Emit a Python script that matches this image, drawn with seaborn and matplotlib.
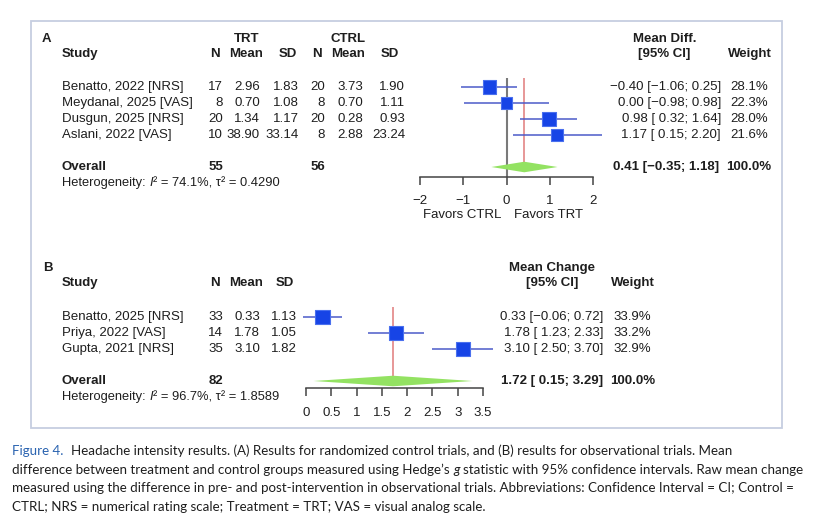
import matplotlib
matplotlib.use("Agg")
import matplotlib.pyplot as plt
from matplotlib.patches import Polygon, Rectangle
import seaborn as sns
import pandas as pd
import numpy as np

W, H = 818, 520

# panel A: randomized control trials
studies_a = ["Benatto, 2022 [NRS]", "Meydanal, 2025 [VAS]", "Dusgun, 2025 [NRS]", "Aslani, 2022 [VAS]"]
n_trt_a = [17, 8, 20, 10]
mean_trt_a = [2.96, 0.70, 1.34, 38.90]
sd_trt_a = [1.83, 1.08, 1.17, 33.14]
n_ctrl_a = [20, 8, 20, 8]
mean_ctrl_a = [3.73, 0.70, 0.28, 2.88]
sd_ctrl_a = [1.90, 1.11, 0.93, 23.24]
est_a = [-0.40, 0.00, 0.98, 1.17]
lo_a = [-1.06, -0.98, 0.32, 0.15]
hi_a = [0.25, 0.98, 1.64, 2.20]
weight_a = [28.1, 22.3, 28.0, 21.6]
overall_a = [0.41, -0.35, 1.18]
het_a = ["74.1%", "0.4290"]
ticks_a = [-2, -1, 0, 1, 2]

# panel B: observational trials
studies_b = ["Benatto, 2025 [NRS]", "Priya, 2022 [VAS]", "Gupta, 2021 [NRS]"]
n_b = [33, 14, 35]
mean_b = [0.33, 1.78, 3.10]
sd_b = [1.13, 1.05, 1.82]
est_b = [0.33, 1.78, 3.10]
lo_b = [-0.06, 1.23, 2.50]
hi_b = [0.72, 2.33, 3.70]
weight_b = [33.9, 33.2, 32.9]
overall_b = [1.72, 0.15, 3.29]
het_b = ["96.7%", "1.8589"]
ticks_b = [0, 0.5, 1, 1.5, 2, 2.5, 3, 3.5]

caption = [
    [("Figure 4.", "blue", 2.2),
     ("Headache intensity results. (A) Results for randomized control trials, and (B) results for observational trials. Mean", "", 1)],
    [("difference between treatment and control groups measured using Hedge\u2019s", "", 1), ("g", "italic", 1),
     ("statistic with 95% confidence intervals. Raw mean change", "", 1)],
    [("measured using the difference in pre- and post-intervention in observational trials. Abbreviations: Confidence Interval = CI; Control =", "", 1)],
    [("CTRL; NRS = numerical rating scale; Treatment = TRT; VAS = visual analog scale.", "", 1)],
]

INK = "#1e1e1e"
SQ = "#1744e6"
SQ_EDGE = "#4a70ee"
CI_COL = "#4b5bc9"
DIAMOND = "#93e262"
RED = "#e07a7a"
GREY = "#7a7a7a"
FS = 9.5
MAIN_FONT = ["Liberation Sans", "DejaVu Sans"]
CAP_FONT = ["Lato", "Liberation Sans", "DejaVu Sans"]

sns.set_theme(style="white")
plt.rcParams["font.family"] = MAIN_FONT

fig = plt.figure(figsize=(W / 100, H / 100), dpi=100)
fig.patch.set_facecolor("white")
renderer = fig.canvas.get_renderer()


def fx(px):
    return px / W


def fy(py):
    return 1 - py / H


def txt(x, y, s, ha="left", bold=False, size=FS, **kw):
    fig.text(fx(x), fy(y), s, ha=ha, va="center", fontsize=size,
             fontweight="bold" if bold else "normal", color=INK, **kw)


def m(v):
    return f"{v:.2f}".replace("-", "\u2212")


def ci(e, l, h):
    ls = m(l) if l < 0 else " " + m(l)
    return f"{m(e)} [{ls}; {m(h)}]"


def style_kw(style):
    if style == "blue":
        return {"color": "#2a63b0"}
    if style == "italic":
        return {"color": INK, "style": "italic"}
    return {"color": INK}


def width_of(s, size, family, style=""):
    t = fig.text(0, 0, s, fontsize=size, family=family, **style_kw(style))
    w = t.get_window_extent(renderer).width
    t.remove()
    return w


def space_of(size, family):
    return width_of("x x", size, family) - width_of("xx", size, family)


def runs_width(parts, size, family):
    sp = space_of(size, family)
    return sum(width_of(s, size, family, st) + sp * g for s, st, g in parts[:-1]) + \
        width_of(parts[-1][0], size, family, parts[-1][1])


def draw_runs(x, y, parts, size, family):
    sp = space_of(size, family)
    for s, st, g in parts:
        t = fig.text(fx(x), fy(y), s, fontsize=size, family=family, va="center",
                     ha="left", **style_kw(st))
        x += t.get_window_extent(renderer).width + sp * g


def forest(box, row0_px, xlim, est, lo, hi, weight, overall, orow, ticks, max_side, zero_line, pad):
    left, top, right, bottom = box
    ax = fig.add_axes([fx(left), fy(bottom), (right - left) / W, (bottom - top) / H])
    ytop = (top - row0_px) / 16
    ybot = (bottom - row0_px) / 16
    ax.set_xlim(*xlim)
    ax.set_ylim(ybot, ytop)
    df = pd.DataFrame({"est": est, "lo": lo, "hi": hi, "row": np.arange(len(est)), "w": weight})
    df["area"] = (max_side * np.sqrt(df.w / df.w.max()) * 0.72) ** 2
    if zero_line:
        ax.vlines(0, ytop, ybot, color=GREY, lw=1.5, zorder=1)
    h = 0.33
    ax.vlines(overall[0], ytop, orow + h, color=RED, lw=1.1, zorder=1)
    ax.hlines(df.row, df.lo, df.hi, color=CI_COL, lw=1.1, zorder=2, clip_on=False)
    sns.scatterplot(data=df, x="est", y="row", size="area", sizes=dict(zip(df.area, df.area)),
                    marker="s", color=SQ, edgecolor=SQ_EDGE, linewidth=0.8, legend=False,
                    ax=ax, zorder=3, clip_on=False)
    e, l, u = overall
    ax.add_patch(Polygon([(l, orow), (e, orow - h), (u, orow), (e, orow + h)],
                         closed=True, facecolor=DIAMOND, edgecolor="none", zorder=2, clip_on=False))
    for s in ["top", "left", "right"]:
        ax.spines[s].set_visible(False)
    ax.spines["bottom"].set_color("#444444")
    ax.spines["bottom"].set_linewidth(1.1)
    ax.set_xticks(ticks)
    ax.set_xticklabels([f"{t:g}".replace("-", "\u2212") for t in ticks])
    ax.set_yticks([])
    ax.tick_params(axis="x", bottom=True, direction="out", length=5.5, width=1.1,
                   color="#444444", pad=pad, labelsize=FS, labelcolor=INK)
    ax.set_xlabel("")
    ax.set_ylabel("")
    ax.patch.set_alpha(0)
    return ax


def heterogeneity(y, vals):
    parts = [("Heterogeneity:", "", 1), ("I", "italic", 0.15),
             (f"\u00b2 = {vals[0]}, \u03c4\u00b2 = {vals[1]}", "", 0)]
    draw_runs(62, y, parts, 9.3, MAIN_FONT)


# border
fig.patches.append(Rectangle((fx(31), fy(428)), (782 - 31) / W, (428 - 21) / H,
                             transform=fig.transFigure, fill=False, edgecolor="#c6cee0", lw=1.3))

# ---------------- panel A ----------------
rows_a = [87 + 16 * i for i in range(len(studies_a))]
txt(42, 39, "A", bold=True)
txt(247, 39, "TRT", ha="center", bold=True)
txt(348, 39, "CTRL", ha="center", bold=True)
txt(62, 54, "Study", bold=True)
for x, s in zip([220, 263, 297, 322, 365, 399], ["N", "Mean", "SD", "N", "Mean", "SD"]):
    txt(x, 54, s, ha="right", bold=True)
txt(665, 39, "Mean Diff.", ha="center", bold=True)
txt(664, 54, "[95% CI]", ha="center", bold=True)
txt(750, 54, "Weight", ha="center", bold=True)

for i, y in enumerate(rows_a):
    txt(62, y, studies_a[i])
    txt(223, y, str(n_trt_a[i]), ha="right")
    txt(260, y, f"{mean_trt_a[i]:.2f}", ha="right")
    txt(299, y, f"{sd_trt_a[i]:.2f}", ha="right")
    txt(325, y, str(n_ctrl_a[i]), ha="right")
    txt(363, y, f"{mean_ctrl_a[i]:.2f}", ha="right")
    txt(405, y, f"{sd_ctrl_a[i]:.2f}", ha="right")
    txt(721, y, ci(est_a[i], lo_a[i], hi_a[i]), ha="right")
    txt(768, y, f"{weight_a[i]:.1f}%", ha="right")

txt(62, 167, "Overall", bold=True)
txt(223, 167, str(sum(n_trt_a)), ha="right", bold=True)
txt(325, 167, str(sum(n_ctrl_a)), ha="right", bold=True)
txt(719, 167, ci(*overall_a), ha="right", bold=True)
txt(771, 167, "100.0%", ha="right", bold=True)
heterogeneity(183, het_a)

forest((420, 78, 593, 177), 87, (-2, 2), est_a, lo_a, hi_a, weight_a, overall_a, 5,
       ticks_a, 13.3, True, 7.5)
txt(462, 215, "Favors CTRL", ha="center")
txt(548, 215, "Favors TRT", ha="center")

# ---------------- panel B ----------------
rows_b = [317 + 16 * i for i in range(len(studies_b))]
txt(43, 268, "B", bold=True)
txt(62, 283, "Study", bold=True)
for x, s in zip([220, 263, 294], ["N", "Mean", "SD"]):
    txt(x, 283, s, ha="right", bold=True)
txt(552, 268, "Mean Change", ha="center", bold=True)
txt(552, 283, "[95% CI]", ha="center", bold=True)
txt(633, 283, "Weight", ha="center", bold=True)

for i, y in enumerate(rows_b):
    txt(62, y, studies_b[i])
    txt(223, y, str(n_b[i]), ha="right")
    txt(260, y, f"{mean_b[i]:.2f}", ha="right")
    txt(297, y, f"{sd_b[i]:.2f}", ha="right")
    txt(603, y, ci(est_b[i], lo_b[i], hi_b[i]), ha="right")
    txt(651, y, f"{weight_b[i]:.1f}%", ha="right")

txt(62, 381, "Overall", bold=True)
txt(223, 381, str(sum(n_b)), ha="right", bold=True)
txt(603, 381, ci(*overall_b), ha="right", bold=True)
txt(655, 381, "100.0%", ha="right", bold=True)
heterogeneity(397, het_b)

forest((306, 307, 483, 388), 317, (0, 3.5), est_b, lo_b, hi_b, weight_b, overall_b, 4,
       ticks_b, 14.5, False, 8.5)

# ---------------- caption ----------------
cap_size = 10 * 794 / runs_width(caption[1], 10, CAP_FONT)
for k, parts in enumerate(caption):
    draw_runs(12, 451 + 18.7 * k, parts, cap_size, CAP_FONT)

fig.savefig("out.png", dpi=100, facecolor="white")
